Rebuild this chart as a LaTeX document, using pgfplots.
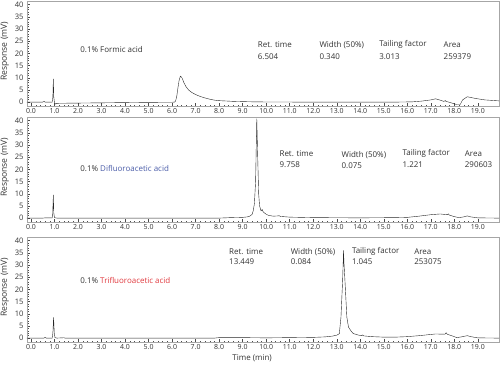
\documentclass[border=0pt]{standalone}
\usepackage{fontspec}
\setmainfont{Open Sans}
\usepackage{pgfplots}
\pgfplotsset{compat=1.18}
\definecolor{dfa}{HTML}{4A5CA8}
\definecolor{tfa}{HTML}{E0393E}
\definecolor{txt}{HTML}{333333}
\newcommand{\tf}{\fontsize{8}{9}\selectfont}
\newcommand{\tkf}{\fontsize{7}{8}\selectfont}
\newcommand{\tyf}{\fontsize{7.6}{8.5}\selectfont}
\newcommand{\lf}{\fontsize{8.6}{9.5}\selectfont}
\pgfplotsset{panel/.style={
  scale only axis, width=472bp, height=105bp,
  xmin=-0.17, xmax=19.9, ymin=-1.6, ymax=41.5,
  xtick={0,1,...,19}, ytick={0,5,...,40},
  minor x tick num=4, minor y tick num=4,
  xtick pos=bottom, ytick pos=left,
  tick align=inside,
  major tick length=3bp, minor tick length=1.5bp,
  axis line style={gray!70, line width=0.5pt},
  every tick/.style={black!70, line width=0.4pt},
  /pgf/number format/assume math mode=true,
  xticklabel style={/pgf/number format/fixed, /pgf/number format/fixed zerofill, /pgf/number format/precision=1, yshift=1bp, font=\tkf},
  yticklabel style={/pgf/number format/fixed, /pgf/number format/precision=0, font=\tyf},
  ticklabel style={text=txt},
  ylabel={Response (mV)},
  ylabel style={font=\lf, text=txt, yshift=-1bp, at={(ticklabel cs:0.52)}},
  cycle list={{black!85, line width=0.45pt, mark=none}},
  clip=true,
}}
\begin{document}
\begin{tikzpicture}
\useasboundingbox (-27bp,1bp) rectangle (473bp,-369bp);
% Panel 1: Formic acid
\begin{axis}[panel, at={(0,0)}, anchor=north west]
\addplot coordinates {(-0.17,0) (0.5,0) (0.55,0.3) (0.6,0) (0.9,0) (0.93,2) (0.95,9.5) (0.97,2) (1.0,-0.3) (1.05,-0.8) (1.1,-0.5) (1.5,-0.45) (2.0,-0.4) (3,-0.3) (4,-0.2) (5,-0.1) (6,-0.05) (6.1,0) (6.15,0.5) (6.2,2.5) (6.25,6) (6.3,9) (6.35,10.6) (6.4,10.3) (6.45,9.3) (6.5,8) (6.6,6.2) (6.7,5) (6.8,4.2) (6.9,3.6) (7.0,3.1) (7.2,2.3) (7.4,1.7) (7.6,1.2) (7.8,0.8) (8.0,0.6) (8.3,0.45) (8.6,0.3) (9,0.2) (9.5,0.1) (10,0.05) (12,0) (14,0) (15.5,0) (16.2,0.1) (16.6,0.4) (17.0,0.9) (17.2,1.35) (17.4,0.8) (17.55,0.3) (17.62,0.6) (17.65,0.3) (17.9,-0.4) (18.1,-1.0) (18.25,-1.0) (18.35,0.9) (18.55,2.2) (18.9,1.5) (19.3,0.9) (19.9,0.5)};
\node[anchor=west, font=\tf, text=txt] at (axis cs:1.95,21.5) {0.1\% Formic acid};
\node[anchor=west, font=\tf, text=txt] at (axis cs:9.5,23.5) {Ret. time};
\node[anchor=west, font=\tf, text=txt] at (axis cs:9.5,18.8) {6.504};
\node[anchor=west, font=\tf, text=txt] at (axis cs:12.12,23.5) {Width (50\%)};
\node[anchor=west, font=\tf, text=txt] at (axis cs:12.12,18.8) {0.340};
\node[anchor=west, font=\tf, text=txt] at (axis cs:14.66,23.5) {Tailing factor};
\node[anchor=west, font=\tf, text=txt] at (axis cs:14.66,18.8) {3.013};
\node[anchor=west, font=\tf, text=txt] at (axis cs:17.4,23.5) {Area};
\node[anchor=west, font=\tf, text=txt] at (axis cs:17.4,18.8) {259379};
\end{axis}
% Panel 2: Difluoroacetic acid
\begin{axis}[panel, at={(0,-116bp)}, anchor=north west]
\addplot coordinates {(-0.17,0) (0.5,0) (0.6,0.1) (0.9,0.1) (0.92,1) (0.95,9.5) (0.97,2) (1.0,0.2) (1.1,0) (3,0) (8,0) (8.5,0.2) (9.0,0.3) (9.2,0.5) (9.3,0.8) (9.4,1.5) (9.45,3) (9.5,6) (9.55,15) (9.6,40.8) (9.64,25) (9.68,10) (9.72,5) (9.78,3) (9.83,3.5) (9.86,2.8) (9.9,2.3) (10.0,1.6) (10.1,1.1) (10.3,0.8) (10.5,0.9) (10.55,1.0) (10.6,0.7) (11,0.4) (12,0.2) (14,0.1) (15.5,0.2) (16,0.3) (16.5,0.8) (17,1.4) (17.4,1.7) (17.7,1.4) (17.75,1.7) (17.8,1.2) (18.0,0.6) (18.2,0.2) (18.4,0.5) (18.55,0.9) (18.7,0.5) (19,0.1) (19.9,0)};
\node[anchor=west, font=\tf, text=txt] at (axis cs:1.95,20.5) {0.1\%\ \textcolor{dfa}{Difluoroacetic acid}};
\node[anchor=west, font=\tf, text=txt] at (axis cs:10.42,26.6) {Ret. time};
\node[anchor=west, font=\tf, text=txt] at (axis cs:10.42,22.0) {9.758};
\node[anchor=west, font=\tf, text=txt] at (axis cs:13.06,26.0) {Width (50\%)};
\node[anchor=west, font=\tf, text=txt] at (axis cs:13.06,21.6) {0.075};
\node[anchor=west, font=\tf, text=txt] at (axis cs:15.65,26.4) {Tailing factor};
\node[anchor=west, font=\tf, text=txt] at (axis cs:15.65,22.0) {1.221};
\node[anchor=west, font=\tf, text=txt] at (axis cs:18.3,26.6) {Area};
\node[anchor=west, font=\tf, text=txt] at (axis cs:18.3,22.0) {290603};
\end{axis}
% Panel 3: Trifluoroacetic acid
\begin{axis}[panel, at={(0,-236bp)}, anchor=north west,
  xlabel={Time (min)},
  xlabel style={font=\tf, text=txt, at={(ticklabel cs:0.477)}, yshift=2bp}]
\addplot coordinates {(-0.17,0) (0.55,0) (0.6,0.3) (0.65,0) (0.9,0) (0.93,2) (0.96,8.5) (0.99,2) (1.02,0.2) (1.1,0) (1.4,0.15) (1.45,0) (3,0) (7.8,0) (8,0.2) (9,0.2) (10,0.1) (11,0.2) (12,0.3) (12.5,0.5) (12.8,0.8) (13.0,1.2) (13.11,1.8) (13.18,8.6) (13.25,23.5) (13.29,36) (13.31,30) (13.29,34) (13.35,23.5) (13.43,8.6) (13.5,4.5) (13.55,3.8) (13.6,3) (13.7,1.9) (13.9,1.3) (14.05,1.0) (14.1,1.3) (14.15,0.9) (14.5,0.6) (15,0.4) (15.5,0.4) (16,0.6) (16.5,1.0) (17,1.5) (17.2,1.7) (17.6,1.6) (17.65,2.2) (17.7,1.6) (18.0,0.6) (18.1,0.2) (18.3,0.5) (18.55,1.0) (18.7,0.6) (19,0.1) (19.9,0)};
\node[anchor=west, font=\tf, text=txt] at (axis cs:1.95,23.8) {0.1\%\ \textcolor{tfa}{Trifluoroacetic acid}};
\node[anchor=west, font=\tf, text=txt] at (axis cs:8.28,35.5) {Ret. time};
\node[anchor=west, font=\tf, text=txt] at (axis cs:8.28,31.3) {13.449};
\node[anchor=west, font=\tf, text=txt] at (axis cs:10.9,35.5) {Width (50\%)};
\node[anchor=west, font=\tf, text=txt] at (axis cs:10.9,31.3) {0.084};
\node[anchor=west, font=\tf, text=txt] at (axis cs:13.5,35.5) {Tailing factor};
\node[anchor=west, font=\tf, text=txt] at (axis cs:13.5,31.3) {1.045};
\node[anchor=west, font=\tf, text=txt] at (axis cs:16.15,35.5) {Area};
\node[anchor=west, font=\tf, text=txt] at (axis cs:16.15,31.3) {253075};
\end{axis}
\end{tikzpicture}
\end{document}
